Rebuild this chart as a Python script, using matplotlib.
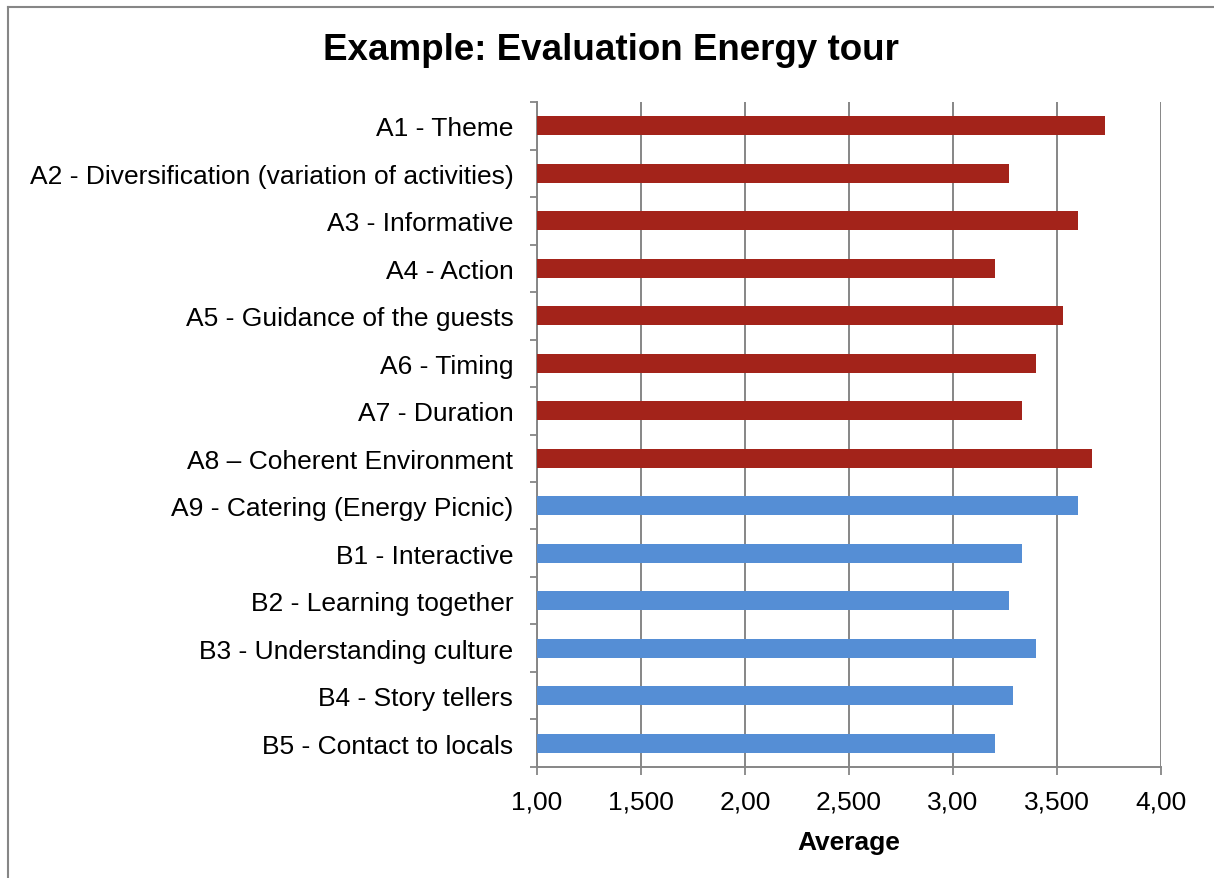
import matplotlib.pyplot as plt
from matplotlib.lines import Line2D

plt.rcParams['font.family'] = ['Liberation Sans', 'DejaVu Sans']

# Criteria (top to bottom) and their average score
criteria = ["A1 - Theme",
            "A2 - Diversification (variation of activities)",
            "A3 - Informative",
            "A4 - Action",
            "A5 - Guidance of the guests",
            "A6 - Timing",
            "A7 - Duration",
            "A8 \u2013 Coherent Environment",
            "A9 - Catering (Energy Picnic)",
            "B1 - Interactive",
            "B2 - Learning together",
            "B3 - Understanding culture",
            "B4 - Story tellers",
            "B5 - Contact to locals"]
averages = [3.73, 3.27, 3.60, 3.20, 3.53, 3.40, 3.33, 3.67,
            3.60, 3.33, 3.27, 3.40, 3.29, 3.20]
groups = ["A"] * 8 + ["B"] * 6   # red for first 8, blue for the rest

x_ticks = [1.0, 1.5, 2.0, 2.5, 3.0, 3.5, 4.0]
x_tick_labels = ["1,00", "1,500", "2,00", "2,500", "3,00", "3,500", "4,00"]

RED = "#A3231A"
BLUE = "#558ED5"
GREY = "#868686"

fig = plt.figure(figsize=(12.14, 8.79), dpi=100)
ax = fig.add_axes([0.4423, 0.1263, 0.514, 0.7565])

colors = [RED if g == "A" else BLUE for g in groups]
pos = list(range(len(criteria)))
ax.barh(pos, averages, left=0, height=0.4, color=colors, zorder=3)

ax.set_xlim(1.0, 4.0)
ax.set_ylim(len(criteria) - 0.5, -0.5)

ax.set_xticks(x_ticks)
ax.set_xticklabels(x_tick_labels, fontsize=19)
ax.set_yticks(pos)
ax.set_yticklabels(criteria, fontsize=19)

# ticks at category boundaries on the y axis (like Excel)
ax.set_yticks([p - 0.5 for p in pos] + [len(pos) - 0.5], minor=True)
ax.tick_params(axis="y", which="major", length=0, pad=17)
ax.tick_params(axis="y", which="minor", length=5, width=1.3, color=GREY)
ax.tick_params(axis="x", length=6, width=1.3, color=GREY, pad=10)

ax.grid(axis="x", color=GREY, linewidth=1.4, zorder=0)
for s in ["top", "right"]:
    ax.spines[s].set_visible(False)
for s in ["left", "bottom"]:
    ax.spines[s].set_color(GREY)
    ax.spines[s].set_linewidth(1.4)

ax.set_xlabel("Average", fontsize=19, fontweight="bold", labelpad=12)

fig.text(0.503, 0.943, "Example: Evaluation Energy tour", fontsize=26.5,
         fontweight="bold", ha="center", va="center")

# outer chart frame (only left and top edges visible)
fig.add_artist(Line2D([8 / 1214, 8 / 1214], [0, 1 - 8 / 879],
                      transform=fig.transFigure, color=GREY, lw=1.5))
fig.add_artist(Line2D([8 / 1214, 1], [1 - 8 / 879, 1 - 8 / 879],
                      transform=fig.transFigure, color=GREY, lw=1.5))

fig.savefig("out.png", dpi=100)
